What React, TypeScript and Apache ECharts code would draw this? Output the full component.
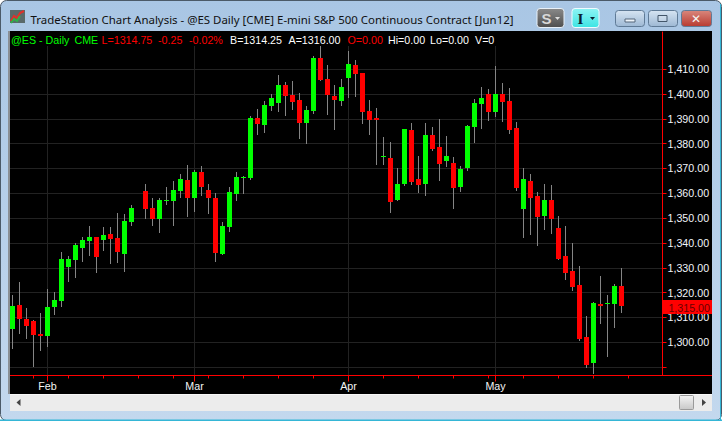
import React, { useEffect, useRef } from "react";
import * as echarts from "echarts";

const W = 722;
const H = 421;

const opens = [1305.25,1315,1309.5,1308.5,1303.25,1302.5,1314.25,1316.75,1330.25,1333.25,1338,1340.75,1342.5,1341.25,1343.5,1342,1335.5,1348.5,null,1361,1354,1349.75,1357,1357,1361,1365.25,1358,1368.5,1361.25,1358,1335.5,1346.5,1359.75,1366.25,1366.25,1390.25,1387.5,1395.25,1396.5,1403.5,1399.5,1397.5,1388.25,1393.25,1414.5,1406,1399.25,1397.25,1406.5,1411.75,1408.5,1393.25,1390.25,1374.75,1374.25,1357.25,1363.75,1385.5,1365.75,1363.75,1383.5,1378.75,1373,1372.25,1362.5,1370.25,1386.75,1396,1400,1392.75,1400,1397.25,1386.25,1353.75,1365,1359,1350.75,1357.25,1346,1334.75,1328.75,1323,1302,1291.75,1315.5,1315.5,1315.5,1322.75];
const closes = [1314.5,1309.5,1306.5,1303,1302.5,1314.25,1317,1333.5,1333.5,1339.25,1341.25,1342.5,1334.25,1343.25,1341.5,1336.25,1348.75,1354,null,1353.75,1349.75,1357.25,1357.25,1361.25,1365.75,1358,1368.5,1362.5,1358,1336,1346.75,1360.5,1366.5,1366.5,1390.25,1388,1395.5,1398.5,1403.75,1399.25,1396.75,1388.25,1393.5,1414.5,1405.5,1399.5,1397.5,1402.75,1412,1408,1392.75,1389.5,1389.5,1375,1356.5,1363.75,1386,1364.5,1363.25,1383.5,1377.75,1371.75,1375,1362.25,1369.75,1387,1396.25,1398.5,1392.75,1400,1396.75,1385.5,1362.25,1365.75,1358,1350.5,1357.25,1349.75,1333.5,1328,1322.25,1301.25,1290.75,1315.75,1314.5,1315.75,1322.75,1314.75];
const lows = [1297.25,1303.25,1301.25,1290,1296.5,1298,1311,1314.25,1324.25,1326,1332.25,1334.75,1328,1336.75,1331.5,1332,1328.25,1346.75,null,1349.75,1346.75,1344,1355.25,1346.75,1358,1350.5,1352.5,1359,1351.75,1332.25,1335.25,1344.5,1357,1359.75,1365.25,1383.5,1384.25,1393.25,1392.75,1391,1393.5,1382,1379.75,1392,1405.25,1391.5,1385.5,1395.25,1398.5,1398.75,1388,1383.5,1371.5,1371.5,1352,1357,1363,1363.25,1360,1359,1377,1365,1370.5,1353.75,1360.5,1369,1380.25,1386,1389,1390.75,1388.75,1384,1361,1342,1343.25,1338.75,1345.25,1343.5,1333.25,1325,1320.75,1300.5,1289.75,1287.25,1307.25,1294,1305.75,1311.75];
const highs = [1319,1324.25,1313.75,1309,1311.75,1321.5,1320.25,1336.25,1334.75,1340,1342.5,1346.75,1342.5,1346.5,1346.5,1352,1351.75,1355.25,null,1363.75,1358,1358,1362.5,1365,1367.75,1371.5,1369.5,1371,1363.75,1360,1348.5,1362.5,1368.5,1367,1391,1394,1397.25,1400,1407.75,1404.75,1405.25,1400.5,1395.25,1415.25,1419.25,1411.75,1403.75,1406,1417.25,1413.75,1408.5,1397.5,1394.25,1382.75,1380.75,1370.25,1386,1388.25,1375,1388.25,1386.75,1390,1383,1374.75,1371,1387.5,1398,1402.75,1402,1411.25,1404.5,1402.5,1388.75,1370.25,1367.75,1360.5,1363.75,1363.25,1350.75,1346.75,1340,1330.75,1310.5,1316.25,1326.75,1319,1323.5,1330];

const monthTicks = [5, 26, 48, 69];
const monthNames = ["Feb", "Mar", "Apr", "May"];
const weekTicks = [3,8,13,18,23,28,33,38,43,48,53,58,63,68,73,78,83,88];
const priceTicks = [1290,1300,1310,1320,1330,1340,1350,1360,1370,1380,1390,1400,1410];
const priceLabels = [1300,1310,1320,1330,1340,1350,1360,1370,1380,1390,1400,1410];

const titleText = "TradeStation Chart Analysis - @ES Daily [CME] E-mini S&P 500 Continuous Contract [Jun12]";
const lastPriceLabel = "1,315.00";
const headerTexts: [string, number, string][] = [
  ["@ES - Daily", 11, "#00ff00"],
  ["CME", 74.5, "#00ff00"],
  ["L=1314.75", 101.5, "#ff0000"],
  ["-0.25", 158, "#ff0000"],
  ["-0.02%", 189, "#ff0000"],
  ["B=1314.25", 230, "#ffffff"],
  ["A=1316.00", 288.5, "#ffffff"],
  ["O=0.00", 347.5, "#ff0000"],
  ["Hi=0.00", 388, "#ffffff"],
  ["Lo=0.00", 430, "#ffffff"],
  ["V=0", 475, "#ffffff"],
];

const GREEN = "#00ff00";
const RED = "#ff0000";
const WICK = "#858585";
const GRID = "#222222";
const FONT = "'Liberation Sans', Arial, sans-serif";

const rows = opens
  .map((o, i) => [i, o, closes[i], lows[i], highs[i]])
  .filter((r) => r[1] !== null);

const renderCandle = (_: any, api: any) => {
  const i = api.value(0);
  const o = api.value(1);
  const c = api.value(2);
  const [cx, yO] = api.coord([i, o]);
  const yC = api.coord([i, c])[1];
  const yL = api.coord([i, api.value(3)])[1];
  const yH = api.coord([i, api.value(4)])[1];
  const top = Math.round(Math.min(yO, yC));
  const bottom = Math.round(Math.max(yO, yC));
  return {
    type: "group",
    children: [
      {
        type: "line",
        shape: { x1: cx, y1: Math.round(yH), x2: cx, y2: Math.round(yL) },
        style: { stroke: WICK, lineWidth: 1 },
      },
      {
        type: "rect",
        shape: { x: cx - 2.5, y: top, width: 5, height: Math.max(1, bottom - top) },
        style: { fill: c >= o ? GREEN : RED },
      },
    ],
  };
};

const vGrad = (a: string, b: string) => ({
  type: "linear", x: 0, y: 0, x2: 0, y2: 1,
  colorStops: [{ offset: 0, color: a }, { offset: 1, color: b }],
});

const r = (x: number, y: number, width: number, height: number, fill: any, z: number, extra: any = {}) => ({
  type: "rect", z, silent: true,
  shape: { x, y, width, height, r: extra.r ?? 0 },
  style: { fill, stroke: extra.stroke, lineWidth: extra.stroke ? 1 : 0 },
});

const t = (text: string, x: number, y: number, fill: string, size: number, z: number, extra: any = {}) => ({
  type: "text", z, silent: true, x, y,
  style: {
    text, fill, fontSize: size, fontFamily: extra.family ?? FONT,
    fontWeight: extra.weight ?? "normal",
    textAlign: extra.align ?? "left", textVerticalAlign: "middle",
  },
});

const button = (x: number, w: number, a: string, b: string) =>
  r(x + 0.5, 10.5, w, 16, vGrad(a, b), 20, { r: 3, stroke: "#5f7a96" });

const backdrop = [
  r(0, 0, W, H, "#ffffff", -10),
  r(0.5, 0.5, W - 1, H - 1, vGrad("#a9c6e4", "#c3d8ee"), -9, { r: 6, stroke: "#4b5a68" }),
];

const overlay = [
  // Header strip over the plot
  r(10, 32, 652, 14, "#000000", 10),
  { type: "line", z: 11, silent: true, shape: { x1: 662, y1: 375.5, x2: 712, y2: 375.5 }, style: { stroke: RED, lineWidth: 1 } },
  r(662.5, 300, 49.5, 14, RED, 12),
  t(lastPriceLabel, 710, 307.5, "#6a0000", 10.7, 13, { align: "right" }),
  // Scrollbar
  r(10, 394, 702, 17, "#ececec", 5),
  r(10, 394, 702, 1, "#f8f8f8", 6),
  { type: "polygon", z: 7, silent: true, shape: { points: [[20.5, 399], [20.5, 406], [16.5, 402.5]] }, style: { fill: "#444" } },
  { type: "polygon", z: 7, silent: true, shape: { points: [[702, 399], [702, 406], [706, 402.5]] }, style: { fill: "#444" } },
  r(679.5, 395.5, 14, 14, vGrad("#f4f4f4", "#c8c8c8"), 7, { r: 1, stroke: "#9a9a9a" }),
  // Frame
  r(8, 31, 2, 363, "#8a8f94", 5),
  r(0, 419.5, W, 1.5, "#35b6d6", 5),
  r(720, 4, 1, 416, "#35b6d6", 5),
  // Icon
  r(10, 10, 15, 13, "#5a6a6a", 5),
  { type: "polyline", z: 6, silent: true, shape: { points: [[11, 21], [14, 16], [17, 18], [20, 13], [24, 11]] }, style: { stroke: "#e0302a", lineWidth: 2, fill: "none" } },
  { type: "polyline", z: 6, silent: true, shape: { points: [[11, 23], [14, 19], [17, 21], [20, 16]] }, style: { stroke: "#2fb04a", lineWidth: 2, fill: "none" } },
  // Title
  t(titleText, 30.5, 19, "#111111", 11.45, 6, { family: "'Noto Sans', sans-serif" }),
  // Toolbar buttons
  r(537, 8.5, 27, 19, vGrad("#8a8a8a", "#4e4e4e"), 20, { r: 3, stroke: "#e8f0f8" }),
  t("S", 541.5, 18.5, "#d8d8d8", 15, 21, { weight: "bold" }),
  { type: "polygon", z: 21, silent: true, shape: { points: [[555, 17], [560, 17], [557.5, 20]] }, style: { fill: "#e0e0e0" } },
  r(572, 8.5, 27, 19, vGrad("#8cf4f4", "#3ee4e4"), 20, { r: 3, stroke: "#f0fbff" }),
  t("I", 577.5, 18.5, "#0a2030", 15, 21, { weight: "bold", family: "'Liberation Serif', serif" }),
  { type: "polygon", z: 21, silent: true, shape: { points: [[590, 17], [595, 17], [592.5, 20]] }, style: { fill: "#0a2030" } },
  // Window buttons
  button(615, 29, "#d6e4f2", "#9db8d4"),
  button(648, 29, "#d6e4f2", "#9db8d4"),
  button(681, 30, "#d9877c", "#b83a30"),
  r(625, 19, 10, 3, "#eef4fa", 21, { stroke: "#55677a" }),
  r(658, 15.5, 9, 6, "rgba(255,255,255,0.2)", 21, { stroke: "#43566a" }),
  t("✕", 696, 18.5, "#f4f4f4", 12, 21, { align: "center", weight: "bold", family: "'DejaVu Sans', sans-serif" }),
  // Header text
  ...headerTexts.map(([s, x, c]) => t(s, x, 40, c, 10.7, 14)),
];

export default function App() {
  const ref = useRef<HTMLDivElement>(null);
  useEffect(() => {
    document.body.style.margin = "0";
    const chart = echarts.init(ref.current!, undefined, { renderer: "svg", width: W, height: H });
    const xMin = -2.5 / 7;
    const xMax = xMin + 652.5 / 7;
    chart.setOption({
      animation: false,
      backgroundColor: "transparent",
      textStyle: { fontFamily: FONT },
      graphic: { elements: [...backdrop, r(10, 31, 702, 363, "#000000", -8), ...overlay] },
      grid: { left: 10, width: 652.5, top: 32, height: 343.5, containLabel: false, show: false },
      xAxis: [
        {
          type: "value",
          position: "bottom",
          min: xMin,
          max: xMax,
          axisLine: { show: true, onZero: false, lineStyle: { color: RED, width: 1 } },
          axisTick: { show: true, length: 6, lineStyle: { color: RED }, customValues: monthTicks },
          axisLabel: {
            show: true,
            customValues: monthTicks,
            margin: 5,
            color: "#f4f4f4",
            fontSize: 10.7,
            fontFamily: FONT,
            formatter: (v: number) => monthNames[monthTicks.indexOf(v)] ?? "",
          },
          splitLine: { show: true, lineStyle: { color: GRID, width: 1 } },
        },
        {
          type: "value",
          position: "bottom",
          min: xMin,
          max: xMax,
          axisLine: { show: false, onZero: false },
          axisTick: { show: true, length: 3, lineStyle: { color: RED }, customValues: weekTicks },
          axisLabel: { show: false },
          splitLine: { show: false },
        },
      ],
      yAxis: {
        type: "value",
        position: "right",
        min: 1300 - (375.5 - 342.3) / 2.483,
        max: 1300 + (342.3 - 32) / 2.483,
        axisLine: { show: true, onZero: false, lineStyle: { color: RED, width: 1 } },
        axisTick: { show: true, length: 4, lineStyle: { color: RED }, customValues: priceTicks },
        axisLabel: {
          show: true,
          customValues: priceLabels,
          margin: 5,
          color: "#f0f4fa",
          fontSize: 10.7,
          fontFamily: FONT,
          formatter: (v: number) => v.toLocaleString("en-US", { minimumFractionDigits: 2, maximumFractionDigits: 2 }),
        },
        splitLine: { show: true, lineStyle: { color: GRID, width: 1 } },
      },
      series: [
        {
          type: "custom",
          name: "@ES",
          xAxisIndex: 0,
          yAxisIndex: 0,
          clip: false,
          silent: true,
          z: 3,
          data: rows,
          encode: { x: 0, y: [1, 2, 3, 4] },
          renderItem: renderCandle,
        },
      ],
    });
    return () => chart.dispose();
  }, []);
  return <div ref={ref} style={{ width: W, height: H }} />;
}
